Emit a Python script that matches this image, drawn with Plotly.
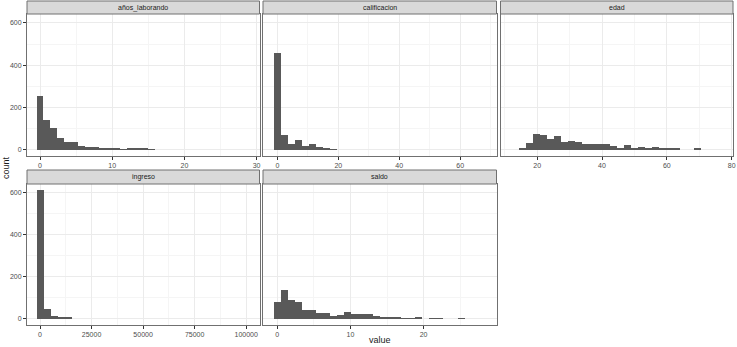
import plotly.graph_objects as go

# ---- data (histogram counts per bin, 30 bins each) ----
anos_counts = [252, 141, 102, 55, 35, 35, 19, 14, 12, 9, 8, 6, 1, 5, 8, 5, 1, 0, 0, 0, 0, 0, 0, 0, 0, 0, 0, 0, 0, 0]
anos_start, anos_width = -0.483, 0.966

calif_counts = [457, 71, 28, 47, 17, 25, 12, 3, 1, 0, 0, 0, 0, 0, 0, 0, 0, 0, 0, 0, 0, 0, 0, 0, 0, 0, 0, 0, 0, 0]
calif_start, calif_width = -1.15, 2.3

edad_counts = [9, 33, 74, 71, 50, 63, 36, 42, 35, 27, 28, 28, 28, 17, 9, 20, 9, 11, 6, 11, 8, 3, 3, 0, 0, 3, 0, 0, 0, 0]
edad_start, edad_width = 14.1, 2.17

ingreso_counts = [614, 47, 11, 6, 3, 0, 0, 0, 0, 0, 0, 0, 0, 0, 0, 0, 0, 0, 0, 0, 0, 0, 0, 0, 0, 0, 0, 0, 0, 0]
ingreso_start, ingreso_width = -1710, 3420

saldo_counts = [77, 137, 90, 77, 41, 41, 27, 27, 14, 17, 30, 24, 24, 21, 13, 6, 8, 6, 2, 2, 5, 0, 2, 2, 0, 0, 2, 0, 0, 0]
saldo_start, saldo_width = -0.483, 0.966

panel_names = ["años_laborando", "calificacion", "edad", "ingreso", "saldo"]
x_tickvals = [[0, 10, 20, 30], [0, 20, 40, 60], [20, 40, 60, 80],
              [0, 25000, 50000, 75000, 100000], [0, 10, 20]]
x_ticktext = [["0", "10", "20", "30"], ["0", "20", "40", "60"], ["20", "40", "60", "80"],
              ["0", "25000", "50000", "75000", "100000"], ["0", "10", "20"]]
y_tickvals = [0, 200, 400, 600]
y_ticktext = ["0", "200", "400", "600"]

# ---- layout geometry ----
W, H = 737, 347
cols_px = [(27, 259.5), (263, 496.5), (500.5, 733)]
rows_px = [(14, 156), (184, 325)]
strip_px = [(1, 14), (170, 184)]
x_ranges = [[-1.8, 30.4], [-4.7, 71.9], [8.7, 80.4], [-6323, 106470], [-1.95, 29.96]]
x_minor = [5, 10, 10, 12500, 5]
y_range = [-30.6, 642.6]

series = [(anos_counts, anos_start, anos_width), (calif_counts, calif_start, calif_width),
          (edad_counts, edad_start, edad_width), (ingreso_counts, ingreso_start, ingreso_width),
          (saldo_counts, saldo_start, saldo_width)]
positions = [(0, 0), (0, 1), (0, 2), (1, 0), (1, 1)]

BORDER = "#707070"
TICKC = "#4d4d4d"
fig = go.Figure()
layout = dict(width=W, height=H, margin=dict(l=0, r=0, t=0, b=0),
              plot_bgcolor="white", paper_bgcolor="white", showlegend=False,
              font=dict(family="Liberation Sans, Arial", color=TICKC, size=7),
              bargap=0, shapes=[], annotations=[])

for i, ((counts, start, w), (r, c)) in enumerate(zip(series, positions)):
    n = i + 1
    xs = [start + (k + 0.5) * w for k in range(len(counts))]
    fig.add_trace(go.Bar(x=xs, y=counts, width=[w] * len(counts),
                         marker=dict(color="#595959", line=dict(width=0)),
                         xaxis=f"x{n}", yaxis=f"y{n}", hoverinfo="x+y"))
    x0, x1 = cols_px[c]
    y0, y1 = rows_px[r]
    xd = [x0 / W, x1 / W]
    yd = [1 - y1 / H, 1 - y0 / H]
    layout[f"xaxis{n}"] = dict(
        domain=xd, range=x_ranges[i], anchor=f"y{n}", tickmode="array",
        tickvals=x_tickvals[i], ticktext=x_ticktext[i], ticks="outside", ticklen=3,
        tickcolor="#333333", tickwidth=1, showline=True, mirror=True, linecolor=BORDER,
        linewidth=1, showgrid=True, gridcolor="#ebebeb", gridwidth=1, zeroline=False,
        automargin=False, tickfont=dict(size=7, color=TICKC),
        minor=dict(tick0=0, dtick=x_minor[i], showgrid=True, gridcolor="#f5f5f5", gridwidth=0.5, ticks=""))
    layout[f"yaxis{n}"] = dict(
        domain=yd, range=y_range, anchor=f"x{n}", tickmode="array",
        tickvals=y_tickvals, ticktext=y_ticktext if c == 0 else [""] * 4,
        showticklabels=(c == 0), ticks="outside" if c == 0 else "", ticklen=3,
        tickcolor="#333333", tickwidth=1, showline=True, mirror=True, linecolor=BORDER,
        linewidth=1, showgrid=True, gridcolor="#ebebeb", gridwidth=1, zeroline=False,
        automargin=False, tickfont=dict(size=7, color=TICKC),
        minor=dict(tick0=0, dtick=100, showgrid=True, gridcolor="#f5f5f5", gridwidth=0.5, ticks=""))
    s0, s1 = strip_px[r]
    layout["shapes"].append(dict(type="rect", xref="paper", yref="paper",
                                 x0=x0 / W, x1=x1 / W, y0=1 - s1 / H, y1=1 - s0 / H,
                                 fillcolor="#d9d9d9", line=dict(color=BORDER, width=1)))
    layout["annotations"].append(dict(text=panel_names[i], xref="paper", yref="paper",
                                      x=(x0 + x1) / 2 / W, y=1 - (s0 + s1) / 2 / H,
                                      showarrow=False, xanchor="center", yanchor="middle",
                                      font=dict(size=7, color="#1a1a1a")))

layout["annotations"].append(dict(text="value", xref="paper", yref="paper", x=380 / W, y=1 - 340 / H,
                                  showarrow=False, xanchor="center", yanchor="middle",
                                  font=dict(size=9, color="#1a1a1a")))
layout["annotations"].append(dict(text="count", xref="paper", yref="paper", x=6 / W, y=1 - 167 / H,
                                  showarrow=False, textangle=-90, xanchor="center", yanchor="middle",
                                  font=dict(size=9, color="#1a1a1a")))

fig.update_layout(**layout)
fig.write_html("out.html", config={"displayModeBar": False},
               post_script="document.body.style.margin='0px';document.body.style.overflow='hidden';")
